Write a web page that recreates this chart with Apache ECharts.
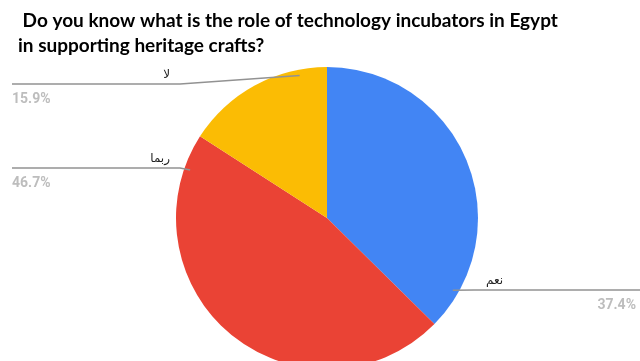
<!DOCTYPE html>
<html>
<head>
<meta charset="utf-8">
<script src="https://cdn.jsdelivr.net/npm/echarts@6/dist/echarts.min.js"></script>
<style>
  html, body { margin: 0; padding: 0; background: #fff; }
  #chart { width: 640px; height: 361px; }
</style>
</head>
<body>
<div id="chart"></div>
<script>
// Survey answers and their shares (percent)
const categories = ['نعم', 'ربما', 'لا'];
const shares = [37.4, 46.7, 15.9];
const sliceColors = ['#4285F4', '#EA4335', '#FBBC04'];

const titleText = ' Do you know what is the role of technology incubators in Egypt\nin supporting heritage crafts?';

// Pie geometry
const CENTER = [327, 218];
const RADIUS = 151;
const ANCHOR_R = 145;

// Leader line layout per slice: where along the slice the line touches,
// the height of the horizontal run, and which side the label sits on.
const leaders = [
  { frac: 0.89, lineY: 290, side: 'right', elbowX: 474 },
  { frac: 0.92, lineY: 168, side: 'left', elbowX: 180 },
  { frac: 0.81, lineY: 84, side: 'left', elbowX: 180 }
];

const total = shares.reduce((a, b) => a + b, 0);
const startAngles = [];
let acc = 0;
shares.forEach(v => { startAngles.push(acc / total * 360); acc += v; });

function anchorPoint(i) {
  const span = shares[i] / total * 360;
  const ang = (startAngles[i] + leaders[i].frac * span) * Math.PI / 180;
  return [CENTER[0] + ANCHOR_R * Math.sin(ang), CENTER[1] - ANCHOR_R * Math.cos(ang)];
}

const pieBase = {
  type: 'pie',
  center: CENTER,
  radius: RADIUS,
  startAngle: 90,
  clockwise: true,
  avoidLabelOverlap: false,
  silent: true
};

const chart = echarts.init(document.getElementById('chart'), null, { renderer: 'canvas' });

chart.setOption({
  animation: false,
  backgroundColor: '#ffffff',
  title: {
    text: titleText,
    left: 18,
    top: 8,
    padding: 0,
    textStyle: {
      fontFamily: 'Lato',
      fontWeight: 'bold',
      fontSize: 19,
      lineHeight: 25,
      color: '#000'
    }
  },
  series: [
    // Slices
    Object.assign({}, pieBase, {
      z: 2,
      label: { show: false },
      labelLine: { show: false },
      data: categories.map((name, i) => ({
        name: name,
        value: shares[i],
        itemStyle: { color: sliceColors[i] }
      }))
    }),
    // Labels and leader lines, drawn on top of the slices
    Object.assign({}, pieBase, {
      z: 3,
      data: categories.map((name, i) => ({
        name: name,
        value: shares[i],
        itemStyle: { color: 'rgba(0,0,0,0)' },
        label: {
          width: leaders[i].side === 'left' ? 158 : 150,
          rich: {
            n: {
              fontFamily: 'DejaVu Sans',
              fontSize: 12,
              color: '#222',
              lineHeight: 24,
              align: leaders[i].side === 'left' ? 'right' : 'left'
            },
            p: {
              fontFamily: 'Roboto',
              fontWeight: 'bold',
              fontSize: 14,
              color: '#bdbdbd',
              lineHeight: 24,
              align: leaders[i].side === 'left' ? 'left' : 'right'
            }
          }
        }
      })),
      label: {
        show: true,
        position: 'outside',
        formatter: p => '{n|' + p.name + '}\n{p|' + p.value.toFixed(1) + '%}'
      },
      labelLine: {
        show: true,
        lineStyle: { color: '#929292', width: 1.5 }
      },
      labelLayout: function (params) {
        const i = params.dataIndex;
        const L = leaders[i];
        const a = anchorPoint(i);
        const left = L.side === 'left';
        return {
          x: left ? 12 : 486,
          y: L.lineY - 21,
          align: 'left',
          verticalAlign: 'top',
          labelLinePoints: [a, [L.elbowX, L.lineY], [left ? 12 : 640, L.lineY]]
        };
      }
    })
  ]
});
</script>
</body>
</html>
